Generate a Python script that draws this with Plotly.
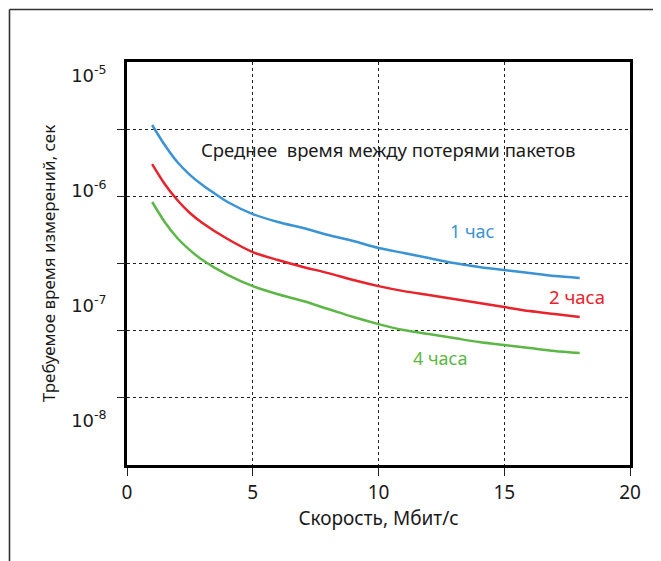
import plotly.graph_objects as go

x_blue = [1, 1.5, 2, 2.5, 3, 3.63, 4, 5, 6, 7, 8, 9, 10, 11, 12, 13, 14, 15, 16, 17, 18]
y_blue = [3.72e-6, 2.49e-6, 1.77e-6, 1.37e-6, 1.116e-6, 8.96e-7, 7.94e-7, 6.24e-7, 5.32e-7, 4.71e-7,
          4.10e-7, 3.63e-7, 3.16e-7, 2.86e-7, 2.58e-7, 2.34e-7, 2.16e-7, 2.03e-7, 1.91e-7, 1.80e-7, 1.73e-7]

x_red = [1, 1.5, 2, 2.5, 3, 4, 5, 6, 7, 8, 9, 10, 11, 12, 13, 14, 15, 16, 17, 18]
y_red = [1.70e-6, 1.14e-6, 8.26e-7, 6.37e-7, 5.21e-7, 3.78e-7, 2.91e-7, 2.48e-7, 2.16e-7, 1.91e-7,
         1.66e-7, 1.47e-7, 1.33e-7, 1.23e-7, 1.135e-7, 1.05e-7, 9.66e-8, 8.92e-8, 8.40e-8, 7.91e-8]

x_green = [1, 1.5, 2, 2.5, 3, 4, 5, 6, 7, 8, 9, 10, 11, 12, 13, 14, 15, 16, 17, 18]
y_green = [7.94e-7, 5.32e-7, 3.86e-7, 3.03e-7, 2.48e-7, 1.84e-7, 1.47e-7, 1.25e-7, 1.09e-7, 9.29e-8,
           7.91e-8, 6.87e-8, 6.09e-8, 5.62e-8, 5.19e-8, 4.79e-8, 4.51e-8, 4.25e-8, 4.00e-8, 3.84e-8]

y_tickvals = [1e-5, 1e-6, 1e-7, 1e-8]
y_ticktext = ["10<sup>-5</sup>", "10<sup>-6</sup>", "10<sup>-7</sup>", "10<sup>-8</sup>"]
x_tickvals = [0, 5, 10, 15, 20]
grid_levels = [1, 2, 3, 4, 5]

BLUE = "#3a93d4"
RED = "#e8232b"
GREEN = "#5cb746"
FONT = "Noto Sans"

fig = go.Figure()
fig.add_trace(go.Scatter(x=[0], y=[0], yaxis="y2", mode="markers",
                         marker=dict(opacity=0), hoverinfo="skip", showlegend=False))
fig.add_trace(go.Scatter(x=x_blue, y=y_blue, mode="lines", line=dict(color=BLUE, width=2.5),
                         line_shape="spline", line_smoothing=0.8, name="1 час", showlegend=False))
fig.add_trace(go.Scatter(x=x_red, y=y_red, mode="lines", line=dict(color=RED, width=2.5),
                         line_shape="spline", line_smoothing=0.8, name="2 часа", showlegend=False))
fig.add_trace(go.Scatter(x=x_green, y=y_green, mode="lines", line=dict(color=GREEN, width=2.5),
                         line_shape="spline", line_smoothing=0.8, name="4 часа", showlegend=False))

fig.update_layout(
    width=653, height=553,
    margin=dict(l=119, r=31, t=54, b=96),
    paper_bgcolor="white", plot_bgcolor="white",
    font=dict(family=FONT, size=16, color="#1a1a1a"),
    xaxis=dict(range=[0, 20], tickvals=x_tickvals, showgrid=True, gridcolor="#222",
               griddash="dot", gridwidth=1.3, ticks="outside", ticklen=8, tickcolor="#222",
               tickwidth=1.3, showline=True, linecolor="black", linewidth=2.5, mirror=True,
               zeroline=False, tickfont=dict(size=19),
               title=dict(text="Скорость, Мбит/с", font=dict(size=19), standoff=6)),
    yaxis=dict(type="log", range=[-8.390, -4.881], tickvals=y_tickvals, ticktext=y_ticktext,
               showgrid=False, ticks="", showline=True, linecolor="black", linewidth=2.5,
               mirror=True, zeroline=False, ticklabelstandoff=14,
               tickfont=dict(family="DejaVu Sans", size=18),
               title=dict(text="Требуемое время измерений, сек", font=dict(size=17), standoff=12)),
    yaxis2=dict(overlaying="y", range=[0, 6], tickvals=grid_levels, showticklabels=False,
                showgrid=True, gridcolor="#222", griddash="dot", gridwidth=1.3,
                ticks="outside", ticklen=9, tickcolor="#222", tickwidth=1.3,
                zeroline=False, showline=False, side="left"),
    annotations=[
        dict(text="Среднее  время между потерями пакетов", x=10.38, y=-5.6385, xref="x", yref="y",
             showarrow=False, font=dict(size=18.5, color="#1a1a1a")),
        dict(text="1 час", x=13.72, y=-6.3528, xref="x", yref="y", showarrow=False,
             font=dict(size=18, color=BLUE)),
        dict(text="2 часа", x=17.89, y=-6.919, xref="x", yref="y", showarrow=False,
             font=dict(size=18.5, color=RED)),
        dict(text="4 часа", x=12.45, y=-7.459, xref="x", yref="y", showarrow=False,
             font=dict(size=18, color=GREEN)),
    ],
    shapes=[
        dict(type="line", xref="paper", yref="paper", x0=-0.2336, x1=1.07, y0=1.1303, y1=1.1303,
             line=dict(color="#333", width=1.6)),
        dict(type="line", xref="paper", yref="paper", x0=-0.2336, x1=-0.2336, y0=1.1303, y1=-0.25,
             line=dict(color="#333", width=1.6)),
    ],
)

fig.write_html("out.html")
